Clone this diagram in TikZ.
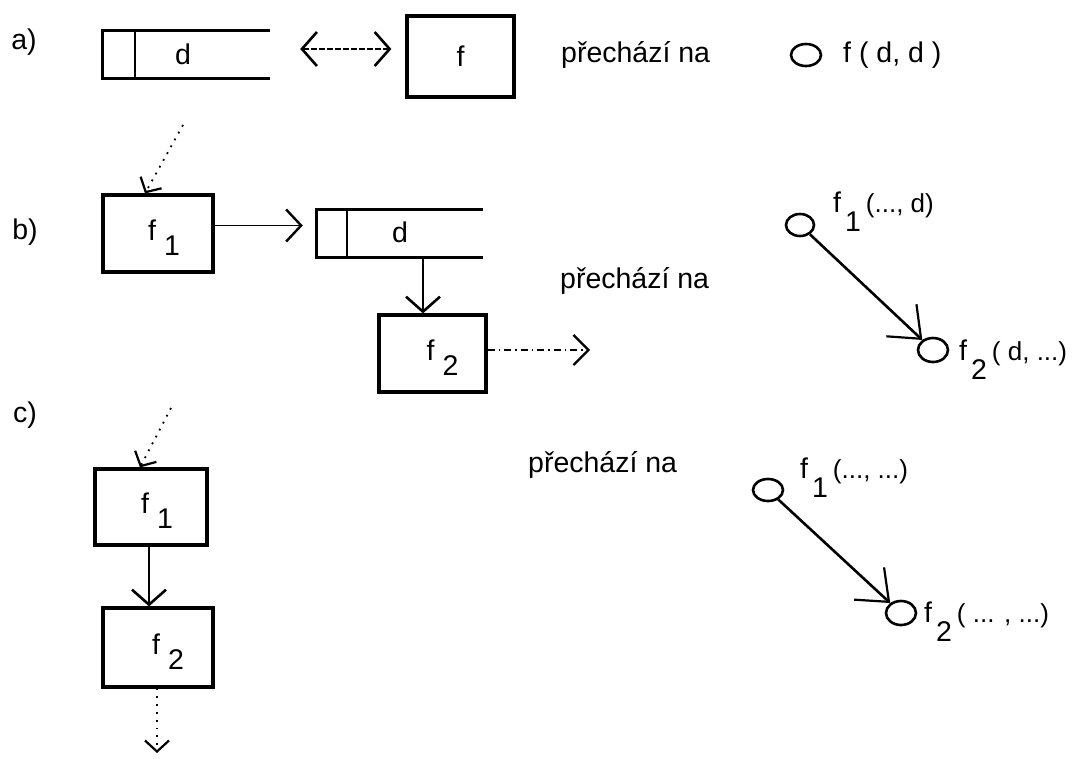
\documentclass[tikz,border=0pt]{standalone}
\usepackage{fontspec}
\setmainfont{Liberation Sans}
\usetikzlibrary{arrows.meta,shapes.geometric}
\newcommand\fsub[3]{\kern#1pt f\kern#2pt\raisebox{-15pt}[0pt][7pt]{#3}}
\newcommand\flab[2]{f\kern4pt\raisebox{-19pt}{#1}\kern5pt{\fontsize{26}{30}\selectfont #2}}
\begin{document}
\begin{tikzpicture}[x=1pt,y=-1pt,
  every node/.style={font=\fontsize{28.5}{33}\selectfont, inner sep=0pt},
  fbox/.style={draw, line width=3.2pt},
  openbox/.style={line width=3.2pt},
  divider/.style={line width=2.4pt},
  node circ/.style={draw, ellipse, line width=2.6pt, minimum width=30pt, minimum height=22pt},
  arr/.style={line width=2.6pt, -{Straight Barb[length=15pt,width=34pt]}},
  thinarr/.style={line width=1.6pt, -{Straight Barb[length=15pt,width=32pt,line width=2.4pt]}},
  dblarr/.style={line width=1.4pt, dash pattern=on 6pt off 2pt,
     {Straight Barb[length=15pt,width=34pt,line width=2.6pt]}-{Straight Barb[length=15pt,width=34pt,line width=2.6pt]}},
  dotarr/.style={line width=1.8pt, dash pattern=on 1.8pt off 6pt,
     -{Straight Barb[length=11pt,width=24pt,line width=2.2pt]}},
  ddarr/.style={line width=1.5pt, dash pattern=on 7pt off 4pt on 1.5pt off 4pt,
     -{Straight Barb[length=15pt,width=30pt,line width=2.2pt]}},
  garr/.style={line width=2.6pt, -{Straight Barb[length=27pt,width=44pt,line width=2.2pt]}}
]
\useasboundingbox (0,0) rectangle (1082,758);

% ---------------- a) ----------------
\node (la) at (24,42) {a)};
\node[minimum width=167pt, minimum height=47pt] (da) at (186.5,54.5) {};
\draw[openbox] (da.north east) -- (da.north west) -- (da.south west) -- (da.south east);
\draw[divider] ([xshift=32pt]da.north west) -- ([xshift=32pt]da.south west);
\node (dta) at (183,54) {d};
\node[fbox, minimum width=107pt, minimum height=81pt] (fa) at (460.5,56.5) {f};
\draw[dblarr, shorten <=30pt, shorten >=14pt] ([yshift=5.5pt]da.east) -- ([yshift=7.5pt]fa.west);
\node[anchor=west] (pa) at (561,55) {přechází na};
\node[node circ] (ca) at (806,55) {};
\node[anchor=west] (ta) at (843,55) {f ( d, d )};
\coordinate (dout) at (183,125);

% ---------------- b) ----------------
\node (lb) at (25,232) {b)};
\node[fbox, minimum width=110pt, minimum height=77pt] (f1b) at (158,233.5) {\fsub{12}{8}{1}};
\draw[dotarr] (dout) -- ([xshift=-13pt]f1b.north);
\node[minimum width=166pt, minimum height=47pt] (db) at (400,233.5) {};
\draw[openbox] (db.north east) -- (db.north west) -- (db.south west) -- (db.south east);
\draw[divider] ([xshift=30pt]db.north west) -- ([xshift=30pt]db.south west);
\node (dtb) at (400,232) {d};
\draw[thinarr, shorten >=14pt] ([yshift=8pt]f1b.east) -- ([yshift=8pt]db.west);
\node[fbox, minimum width=107pt, minimum height=77pt] (f2b) at (432.5,353.5) {\fsub{20}{8}{2}};
\draw[arr] ([xshift=23pt]db.south) -- ([xshift=-9.5pt]f2b.north);
\coordinate (f2bout) at (590,350);
\draw[ddarr] ([yshift=3.5pt]f2b.east) -- (f2bout);
\node[anchor=west] (pb) at (560,281) {přechází na};
\node[node circ, minimum width=28pt] (c1b) at (800,225) {};
\node[node circ, minimum height=24pt] (c2b) at (933,350) {};
\draw[garr] (c1b) -- (c2b);
\node[anchor=base west] (t1b) at (833,212) {\flab{1}{(..., d)}};
\node[anchor=base west] (t2b) at (959,360) {\flab{2}{( d, ...)}};

% ---------------- c) ----------------
\node (lc) at (25,415) {c)};
\coordinate (cin) at (171,408);
\node[fbox, minimum width=112pt, minimum height=76pt] (f1c) at (151,507) {\fsub{12}{8}{1}};
\draw[dotarr] (cin) -- ([xshift=-11pt]f1c.north);
\node[fbox, minimum width=110pt, minimum height=79pt] (f2c) at (158,647.5) {\fsub{20}{8}{2}};
\draw[arr] ([xshift=-2pt]f1c.south) -- ([xshift=-9pt]f2c.north);
\coordinate (cout) at (157,753);
\draw[dotarr] ([xshift=-1pt]f2c.south) -- (cout);
\node[anchor=west] (pc) at (528,465) {přechází na};
\node[node circ] (c1c) at (768,490) {};
\node[node circ, minimum height=24pt] (c2c) at (901,613) {};
\draw[garr] (c1c) -- (c2c);
\node[anchor=base west] (t1c) at (800,478) {\flab{1}{(..., ...)}};
\node[anchor=base west] (t2c) at (924,622) {\flab{2}{( ... , ...)}};
\end{tikzpicture}
\end{document}
